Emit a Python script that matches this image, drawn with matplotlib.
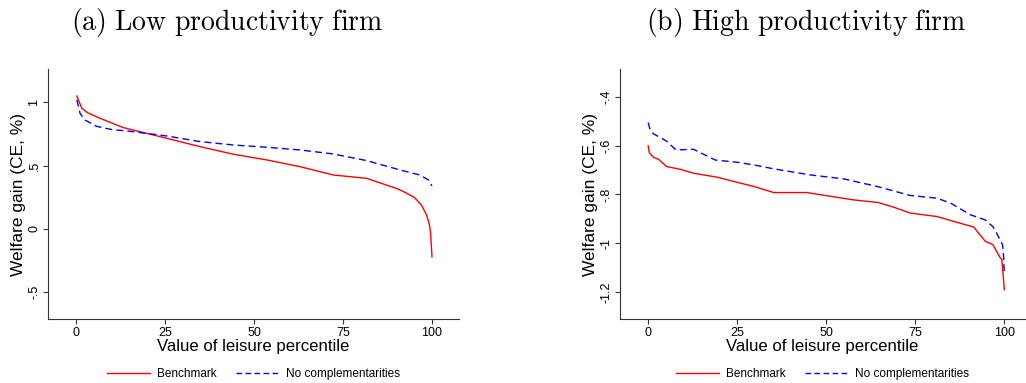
import matplotlib
matplotlib.use('Agg')
import matplotlib.pyplot as plt
from matplotlib.lines import Line2D

# Панель (a): фирма с низкой производительностью
pct_a_bench = [0.2, 1.6, 3.2, 6.7, 13.3, 23.6, 34.8, 44.2, 53.6, 62.9, 72.3, 81.6, 90, 92, 95, 97, 98.5, 99.3, 99.6, 100]
val_a_bench = [1.05, 0.953, 0.918, 0.874, 0.80, 0.729, 0.65, 0.59, 0.545, 0.492, 0.426, 0.40, 0.32, 0.295, 0.25, 0.19, 0.11, 0.03, -0.03, -0.22]
pct_a_nocomp = [0.2, 1.1, 2.5, 5.8, 9.6, 16.1, 25.5, 34.8, 44.2, 53.6, 62.9, 72.3, 81.6, 91, 96.6, 99, 100]
val_a_nocomp = [1.02, 0.913, 0.86, 0.81, 0.787, 0.768, 0.734, 0.69, 0.663, 0.645, 0.624, 0.592, 0.54, 0.466, 0.426, 0.387, 0.34]

# Панель (b): фирма с высокой производительностью
pct_b_bench = [0.1, 0.4, 1.6, 3.0, 5.3, 9.1, 12.8, 19.4, 25, 29.7, 35.3, 44.6, 50.2, 57.7, 64.7, 69, 73.6, 81.1, 85.8, 91.4, 94.7, 96.8, 98.9, 99.3, 100]
val_b_bench = [-0.601, -0.629, -0.648, -0.656, -0.686, -0.697, -0.713, -0.729, -0.75, -0.767, -0.792, -0.792, -0.805, -0.822, -0.833, -0.852, -0.876, -0.89, -0.91, -0.933, -0.992, -1.005, -1.06, -1.064, -1.189]
pct_b_nocomp = [0.1, 0.65, 1.6, 5.3, 7.9, 12.8, 18.9, 25, 29.7, 35.3, 45.6, 54.9, 64.3, 73.6, 81.1, 84.9, 90.5, 94.5, 96.8, 98.1, 99.5, 99.8, 100]
val_b_nocomp = [-0.506, -0.536, -0.552, -0.582, -0.618, -0.615, -0.659, -0.668, -0.679, -0.695, -0.72, -0.736, -0.767, -0.804, -0.815, -0.835, -0.883, -0.903, -0.931, -0.965, -1.005, -1.053, -1.121]

xticks = [0, 25, 50, 75, 100]
yticks_a = [-0.5, 0, 0.5, 1]
ylabels_a = ['-.5', '0', '.5', '1']
yticks_b = [-1.2, -1.0, -0.8, -0.6, -0.4]
ylabels_b = ['-1.2', '-1', '-.8', '-.6', '-.4']

plt.rcParams['font.family'] = ['Liberation Sans', 'DejaVu Sans']
plt.rcParams['mathtext.fontset'] = 'cm'

fig = plt.figure(figsize=(10.26, 3.83), dpi=100)
ax1 = fig.add_axes([0.0468, 0.1671, 0.4006, 0.6527])
ax2 = fig.add_axes([0.6043, 0.1671, 0.3947, 0.6527])

panels = [
    (ax1, pct_a_bench, val_a_bench, pct_a_nocomp, val_a_nocomp, yticks_a, ylabels_a, (-0.711, 1.263), (-7.9, 107.6)),
    (ax2, pct_b_bench, val_b_bench, pct_b_nocomp, val_b_nocomp, yticks_b, ylabels_b, (-1.309, -0.287), (-7.8, 105.8)),
]

for ax, xb, yb, xn, yn, yt, yl, ylim, xlim in panels:
    ax.plot(xb, yb, color='#ff0000', lw=1.0)
    ax.plot(xn, yn, color='#0000ff', lw=1.0, ls=(0, (5, 3)))
    ax.set_xlim(*xlim)
    ax.set_ylim(*ylim)
    ax.set_xticks(xticks)
    ax.set_xticklabels([str(t) for t in xticks], fontsize=9)
    ax.set_yticks(yt)
    ax.set_yticklabels(yl, fontsize=9, rotation=90, va='center')
    ax.spines['top'].set_visible(False)
    ax.spines['right'].set_visible(False)
    for s in ['left', 'bottom']:
        ax.spines[s].set_color('#333333')
        ax.spines[s].set_linewidth(0.8)
    ax.tick_params(length=3.5, width=0.8, color='#333333', pad=2)
    ax.set_xlabel('Value of leisure percentile', fontsize=12.1, labelpad=0)
    ax.set_ylabel('Welfare gain (CE, %)', fontsize=12.5, labelpad=2)
    handles = [Line2D([], [], color='#ff0000', lw=1.0),
               Line2D([], [], color='#0000ff', lw=1.0, ls=(0, (4, 2.5)))]
    ax.legend(handles, ['Benchmark', 'No complementarities'], loc='center',
              bbox_to_anchor=(0.5, -0.22), ncol=2, frameon=False, fontsize=8.5,
              handlelength=3.6, columnspacing=1.7, handletextpad=0.6)

fig.text(0.2217, 0.94, r'$\mathrm{(a)\ Low\ productivity\ firm}$', ha='center', va='center', fontsize=20)
fig.text(0.7856, 0.94, r'$\mathrm{(b)\ High\ productivity\ firm}$', ha='center', va='center', fontsize=20)

plt.savefig('out.png', dpi=100)
